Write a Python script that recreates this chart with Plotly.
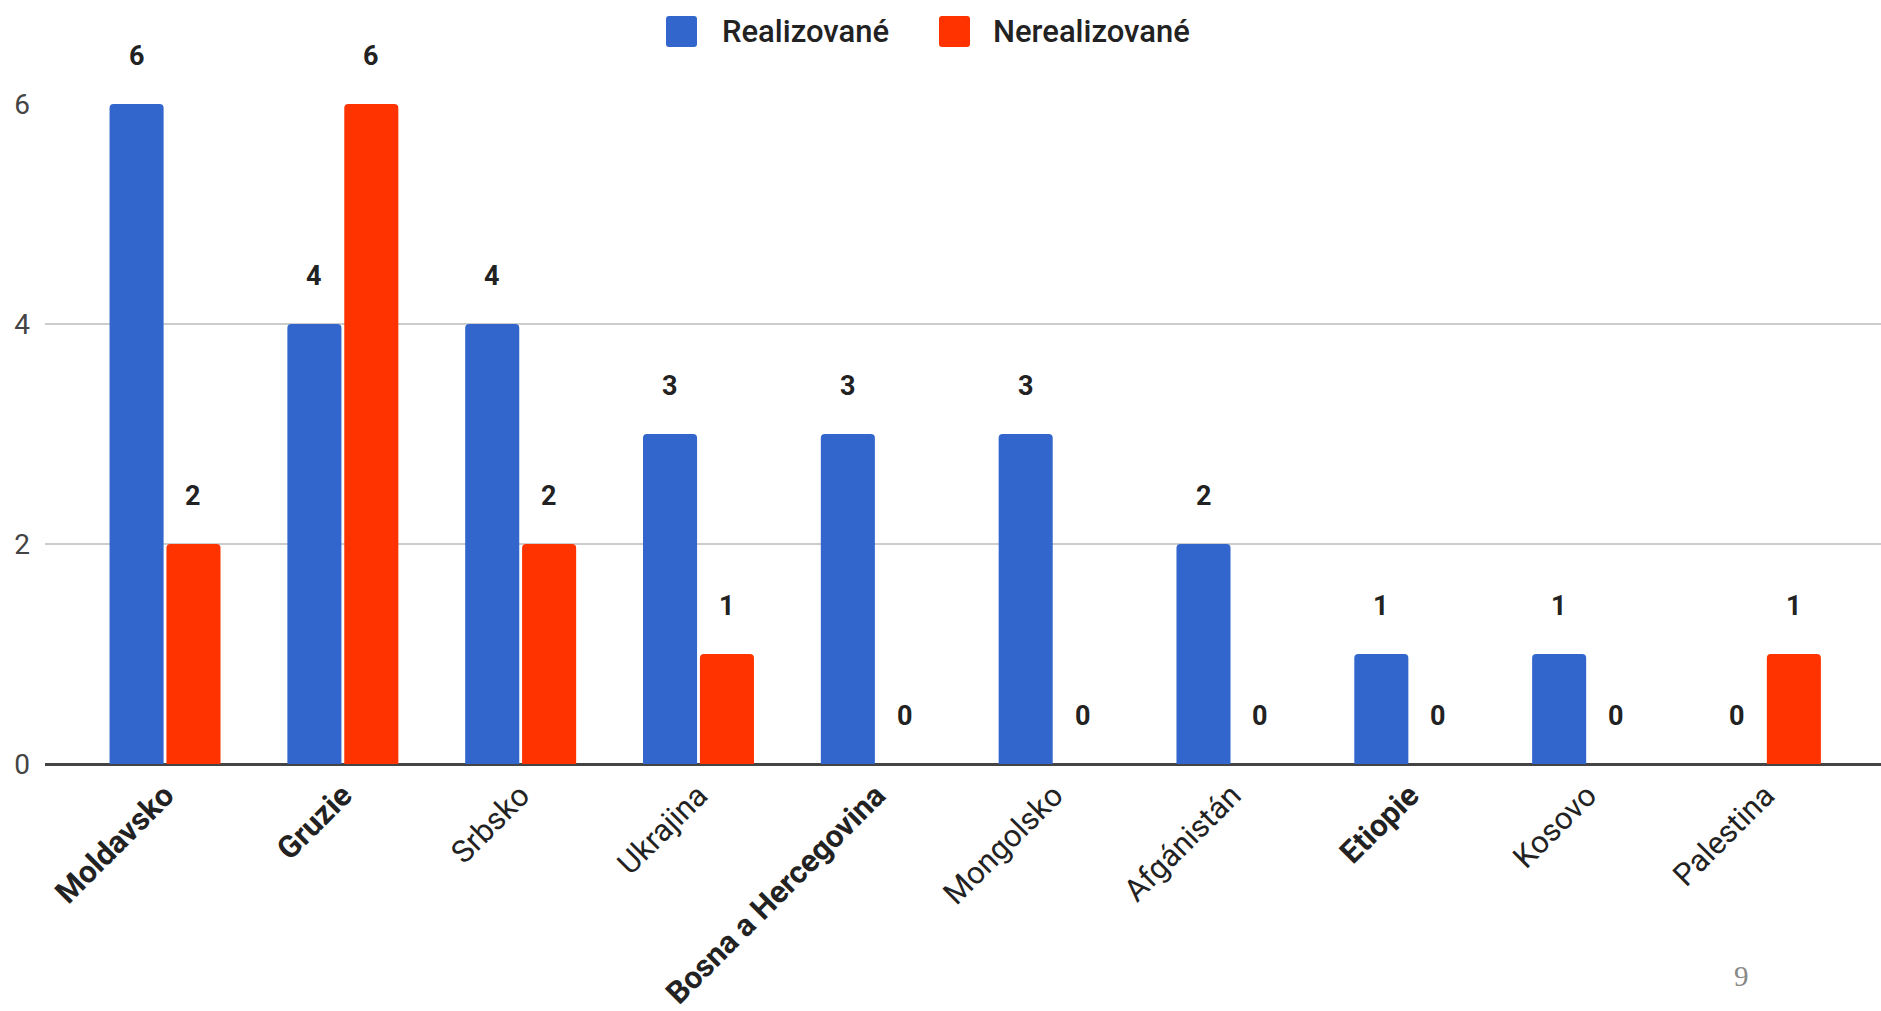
import plotly.graph_objects as go

# ---- data ----
categories = ["Moldavsko", "Gruzie", "Srbsko", "Ukrajina", "Bosna a Hercegovina",
              "Mongolsko", "Afgánistán", "Etiopie", "Kosovo", "Palestina"]
bold_labels = ["Moldavsko", "Gruzie", "Bosna a Hercegovina", "Etiopie"]
realizovane = [6, 4, 4, 3, 3, 3, 2, 1, 1, 0]
nerealizovane = [2, 6, 2, 1, 0, 0, 0, 0, 0, 1]
series_names = ["Realizované", "Nerealizované"]
y_ticks = [0, 2, 4, 6]
page_number = "9"

BLUE = "#3366CC"
RED = "#FF3300"

W, H = 1881, 1011
L, R, T, B = 45, 0, 104, 247
PW, PH = W - L - R, H - T - B


def px_x(px):
    return (px - L) / PW


def px_y(py):
    return (H - B - py) / PH


def rounded_rect(x0, y0, x1, y1, r):
    # pixel coords -> paper path with rounded corners
    def P(x, y):
        return f"{px_x(x)},{px_y(y)}"
    return (f"M {P(x0 + r, y0)} L {P(x1 - r, y0)} Q {P(x1, y0)} {P(x1, y0 + r)} "
            f"L {P(x1, y1 - r)} Q {P(x1, y1)} {P(x1 - r, y1)} "
            f"L {P(x0 + r, y1)} Q {P(x0, y1)} {P(x0, y1 - r)} "
            f"L {P(x0, y0 + r)} Q {P(x0, y0)} {P(x0 + r, y0)} Z")


ticktext = [f"<b>{c}</b>" if c in bold_labels else c for c in categories]

fig = go.Figure()
fig.add_trace(go.Bar(x=categories, y=realizovane, name=series_names[0],
                     marker=dict(color=BLUE, cornerradius=4, line=dict(width=0)),
                     showlegend=False, hoverinfo="x+y"))
fig.add_trace(go.Bar(x=categories, y=nerealizovane, name=series_names[1],
                     marker=dict(color=RED, cornerradius=4, line=dict(width=0)),
                     showlegend=False, hoverinfo="x+y"))

annotations = []
offset = 0.16
for i, (a, b) in enumerate(zip(realizovane, nerealizovane)):
    for val, dx in ((a, -offset), (b, offset)):
        annotations.append(dict(
            x=i + dx, y=val, xref="x", yref="y", text=f"<b>{val}</b>",
            showarrow=False, yshift=48, yanchor="middle", xanchor="center",
            font=dict(family="Roboto", size=27, color="#222222")))

# legend (manual, to match large swatches)
legend_items = [(series_names[0], BLUE, 666, 720), (series_names[1], RED, 939, 991)]
shapes = []
for name, col, sx, tx in legend_items:
    shapes.append(dict(type="path", xref="paper", yref="paper",
                       path=rounded_rect(sx, 16, sx + 31, 47, 3),
                       fillcolor=col, line=dict(width=0), layer="above"))
    annotations.append(dict(x=px_x(tx), y=px_y(31), xref="paper", yref="paper",
                            text=name, showarrow=False, xanchor="left", yanchor="middle",
                            font=dict(family="Roboto", size=31, color="#222222", weight=500)))

annotations.append(dict(x=px_x(1741), y=px_y(976), xref="paper", yref="paper",
                        text=page_number, showarrow=False, xanchor="center", yanchor="middle",
                        font=dict(family="Liberation Serif", size=29, color="#888888")))

fig.update_layout(
    width=W, height=H,
    margin=dict(l=L, r=R, t=T, b=B, pad=0),
    paper_bgcolor="white", plot_bgcolor="white",
    barmode="group", bargap=0.36, bargroupgap=0.05,
    annotations=annotations, shapes=shapes,
    showlegend=False,
    xaxis=dict(range=[-0.675, 9.65], tickmode="array", tickvals=categories,
               ticktext=ticktext, tickangle=-45, showgrid=False, ticks="",
               ticklabelstandoff=6,
               tickfont=dict(family="Roboto", size=31, color="#222222"),
               showline=False, zeroline=False),
    yaxis=dict(range=[0, 6], tickvals=y_ticks, showgrid=True, gridcolor="#cccccc",
               gridwidth=1.5, zeroline=True, zerolinecolor="#444444", zerolinewidth=2.5,
               ticks="", ticklabelstandoff=14,
               tickfont=dict(family="Roboto", size=28, color="#444444")),
)

fig.write_html("out.html", config={"displayModeBar": False},
               post_script="document.body.style.margin='0';document.body.style.overflow='hidden';")
